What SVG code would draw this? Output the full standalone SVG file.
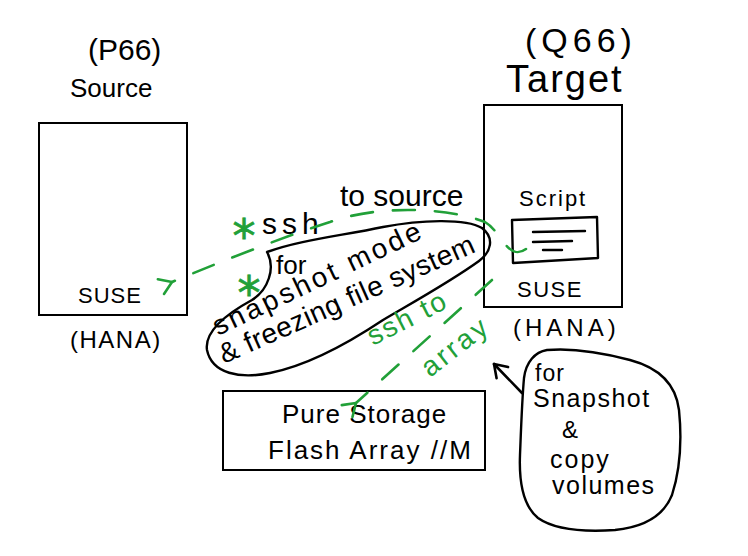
<svg xmlns="http://www.w3.org/2000/svg" width="748" height="556" viewBox="0 0 748 556">
  <defs>
    <style>
      text { font-family: "Liberation Sans", Arial, sans-serif; fill: #000; }
      .box { fill: none; stroke: #000; stroke-width: 2; }
      .ink { fill: none; stroke: #000; stroke-width: 2.4; stroke-linecap: round; stroke-linejoin: round; }
      .green { fill: #21a038; }
      .star { font-family: "DejaVu Sans", sans-serif; font-size: 46px; fill: #21a038; stroke: #21a038; stroke-width: 0.8; }
      .gdash { fill: none; stroke: #21a038; stroke-width: 2.6; stroke-linecap: round; stroke-dasharray: 22 20; }
      .bline { fill: none; stroke: #000; stroke-width: 2.6; stroke-linecap: round; }
    </style>
    <marker id="gArrow" viewBox="0 0 20 20" refX="2" refY="10" markerWidth="20" markerHeight="20" markerUnits="userSpaceOnUse" orient="auto">
      <path d="M 14,2 L 2,10 L 14,18" fill="none" stroke="#21a038" stroke-width="2.6" stroke-linecap="round" stroke-linejoin="round"/>
    </marker>
    <marker id="bArrow" viewBox="0 0 20 20" refX="18" refY="10" markerWidth="20" markerHeight="20" markerUnits="userSpaceOnUse" orient="auto">
      <path d="M 6,2 L 18,10 L 6,18" fill="none" stroke="#000" stroke-width="2.6" stroke-linecap="round" stroke-linejoin="round"/>
    </marker>
  </defs>

  <rect width="748" height="556" fill="#fff"/>

  <g id="source">
    <text x="88" y="60" font-size="30">(P66)</text>
    <text x="70" y="97" font-size="26">Source</text>
    <rect class="box" x="39" y="123" width="148" height="192"/>
    <text x="78" y="303" font-size="22" letter-spacing="1">SUSE</text>
    <text x="70" y="348" font-size="24" letter-spacing="1.5">(HANA)</text>
  </g>

  <g id="target">
    <text x="525" y="52" font-size="34" letter-spacing="5">(Q66)</text>
    <text x="506" y="92" font-size="38" letter-spacing="2">Target</text>
    <rect class="box" x="484" y="105" width="138" height="202"/>
    <text x="517" y="297" font-size="22" letter-spacing="1.5">SUSE</text>
    <text x="513" y="336" font-size="24" letter-spacing="4">(HANA)</text>
  </g>

  <g id="script">
    <text x="519" y="206" font-size="22" letter-spacing="2">Script</text>
    <path class="ink" d="M 512,220 L 597,217 L 598,258 L 513,263 Z"/>
    <path class="ink" d="M 533,232 L 585,231 M 533,242 L 572,241 M 543,250 L 562,250"/>
  </g>

  <g id="storage">
    <rect class="box" x="223" y="391" width="262" height="79"/>
    <text x="282" y="423" font-size="26" letter-spacing="1">Pure Storage</text>
    <text x="268" y="459" font-size="26" letter-spacing="2">Flash Array //M</text>
  </g>

  <g id="note-freeze">
    <path class="ink" d="M 267,252 C 300,240 340,236 383,227 C 420,220 465,218 482,228 C 495,238 491,252 479,261 C 450,282 410,304 383,320 C 350,342 310,365 270,373 C 240,379 212,374 207,350 C 204,330 230,312 252,300 C 268,290 276,268 267,252 Z"/>
    <text font-size="30"><tspan class="star" x="244" y="252" text-anchor="middle">*</tspan><tspan x="262" y="234" letter-spacing="5">ssh</tspan><tspan x="340" y="206">to source</tspan><tspan class="star" x="249" y="309" text-anchor="middle">*</tspan><tspan x="276" y="274" font-size="26">for</tspan></text>
    <text transform="translate(218,336) rotate(-25.5)" font-size="28" letter-spacing="3">snapshot mode</text>
    <text transform="translate(224,364) rotate(-24)" font-size="28" letter-spacing="0.5">&amp; freezing file system</text>
  </g>

  <g id="note-snapshot">
    <path class="ink" d="M 547,350 C 570,348 600,352 630,360 C 660,368 676,385 679,410 C 682,440 680,470 672,495 C 664,515 645,527 615,530 C 585,532 555,530 538,518 C 522,505 519,480 520,455 C 521,430 522,400 524,378 C 526,362 535,352 547,350 Z"/>
    <text x="535" y="381" font-size="23" letter-spacing="1">for</text>
    <text x="533" y="407" font-size="25" letter-spacing="1.5">Snapshot</text>
    <text x="562" y="438" font-size="24">&amp;</text>
    <text x="550" y="468" font-size="25" letter-spacing="2">copy</text>
    <text x="552" y="494" font-size="25" letter-spacing="1.5">volumes</text>
  </g>

  <g id="connectors">
    <path class="gdash" d="M 526,249 C 508,262 502,232 485,222 C 450,208 380,204 330,222 C 280,238 220,262 172,282" marker-end="url(#gArrow)"/>
    <text class="green" transform="translate(373,346) rotate(-27)" font-size="28" letter-spacing="2">ssh to</text>
    <text class="green" transform="translate(430,378) rotate(-38)" font-size="28" letter-spacing="3">array</text>
    <path class="gdash" d="M 492,280 L 356,403" marker-end="url(#gArrow)"/>
    <path class="bline" d="M 522,393 L 494,364" marker-end="url(#bArrow)"/>
  </g>
</svg>
